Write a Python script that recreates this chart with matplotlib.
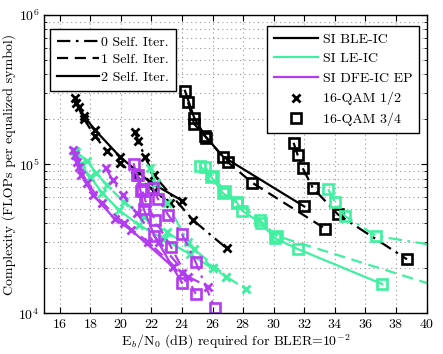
import matplotlib
matplotlib.use("Agg")
import matplotlib.pyplot as plt
from matplotlib.lines import Line2D
from matplotlib.ticker import FixedLocator, LogLocator, NullFormatter

plt.rcParams['font.family'] = ['cmr10', 'DejaVu Serif']
plt.rcParams['mathtext.fontset'] = 'cm'
plt.rcParams['axes.formatter.use_mathtext'] = True
plt.rcParams['axes.unicode_minus'] = False

# ---------------- data ----------------
# BLE-IC (black), 16-QAM 1/2
ble_12_it2_x = [17.0, 17.3, 17.6, 18.3, 19.95, 21.9, 24.0]
ble_12_it2_y = [2.76e5, 2.4e5, 2.1e5, 1.7e5, 1.12e5, 7.6e4, 5.7e4]
ble_12_it1_x = [17.1, 17.6, 18.3, 19.1, 19.95, 21.0, 22.2, 23.2]
ble_12_it1_y = [2.55e5, 2.0e5, 1.55e5, 1.22e5, 1.02e5, 8.3e4, 6.6e4, 5.5e4]
ble_12_it0_x = [20.93, 21.15, 21.58, 22.17, 24.74, 26.92]
ble_12_it0_y = [1.65e5, 1.42e5, 1.12e5, 8.4e4, 4.2e4, 2.73e4]
# BLE-IC (black), 16-QAM 3/4
ble_34_it2_x = [24.2, 24.8, 25.5, 26.7, 32.0]
ble_34_it2_y = [3.1e5, 2.05e5, 1.55e5, 1.12e5, 5.2e4]
ble_34_it1_x = [24.4, 24.8, 25.6, 27.0, 28.6, 33.35]
ble_34_it1_y = [2.6e5, 1.86e5, 1.5e5, 1.03e5, 7.5e4, 3.7e4]
ble_34_it0_x = [31.3, 31.57, 31.9, 32.55, 34.2, 38.72]
ble_34_it0_y = [1.39e5, 1.15e5, 9.4e4, 6.95e4, 4.6e4, 2.3e4]

# LE-IC (green), 16-QAM 1/2
le_12_it2_x = [17.0, 17.4, 18.0, 18.8, 19.9, 21.2, 22.8, 24.5, 26.0]
le_12_it2_y = [1.22e5, 1.0e5, 8.2e4, 6.4e4, 4.9e4, 3.9e4, 3.15e4, 2.5e4, 2.0e4]
le_12_it1_x = [17.1, 17.8, 18.4, 19.1, 20.2, 21.5, 23.0, 24.8, 26.9]
le_12_it1_y = [1.2e5, 1.05e5, 8.7e4, 7.2e4, 5.6e4, 4.4e4, 3.5e4, 2.7e4, 1.76e4]
le_12_it0_x = [21.9, 22.3, 23.0, 24.4, 26.0, 26.9, 28.2]
le_12_it0_y = [9.4e4, 7.5e4, 5.5e4, 3.0e4, 2.0e4, 1.76e4, 1.45e4]
# LE-IC (green), 16-QAM 3/4
le_34_it2_x = [25.17, 25.9, 26.67, 27.6, 27.96, 29.14, 30.1, 31.6, 37.1]
le_34_it2_y = [9.7e4, 8.25e4, 6.4e4, 5.5e4, 4.85e4, 4.05e4, 3.18e4, 2.69e4, 1.57e4]
le_34_it1_x = [25.5, 26.0, 26.8, 27.6, 29.1, 30.2, 41.5]
le_34_it1_y = [9.5e4, 8.3e4, 6.6e4, 5.6e4, 4.2e4, 3.3e4, 1.43e4]
le_34_it0_x = [33.56, 34.0, 34.65, 36.7, 41.0]
le_34_it0_y = [6.78e4, 5.6e4, 4.5e4, 3.3e4, 2.8e4]

# DFE-IC EP (purple), 16-QAM 1/2
dfe_12_it2_x = [16.9, 17.15, 17.4, 18.2, 19.6, 20.7, 23.4]
dfe_12_it2_y = [1.24e5, 1.04e5, 8.5e4, 6.2e4, 4.3e4, 3.6e4, 2.05e4]
dfe_12_it1_x = [17.0, 17.3, 17.8, 18.8, 20.2, 21.8, 24.0]
dfe_12_it1_y = [1.15e5, 9.5e4, 7.5e4, 5.5e4, 4.0e4, 3.0e4, 1.85e4]
dfe_12_it0_x = [19.03, 19.47, 20.12, 21.03, 22.5, 24.4, 25.7]
dfe_12_it0_y = [9.4e4, 7.8e4, 6.2e4, 4.7e4, 3.0e4, 1.76e4, 1.51e4]
# DFE-IC EP (purple), 16-QAM 3/4
dfe_34_it2_x = [20.85, 21.05, 21.3, 21.5, 22.2, 24.0]
dfe_34_it2_y = [1.0e5, 8.4e4, 6.6e4, 5.0e4, 3.3e4, 1.6e4]
dfe_34_it1_x = [21.1, 21.4, 21.6, 22.25, 23.3, 24.9]
dfe_34_it1_y = [8.5e4, 6.8e4, 5.7e4, 4.2e4, 2.77e4, 1.35e4]
dfe_34_it0_x = [22.1, 22.45, 23.1, 24.0, 24.9, 26.15]
dfe_34_it0_y = [6.9e4, 5.8e4, 4.56e4, 3.4e4, 2.2e4, 1.08e4]

iter_labels = ['0 Self. Iter.', '1 Self. Iter.', '2 Self. Iter.']
eq_labels = ['SI BLE-IC', 'SI LE-IC', 'SI DFE-IC EP']
rate_labels = ['16-QAM 1/2', '16-QAM 3/4']
x_ticks = [16, 18, 20, 22, 24, 26, 28, 30, 32, 34, 36, 38, 40]

# ---------------- style ----------------
BLACK = '#000000'
GREEN = '#40F0A0'
PURPLE = '#B43CF0'
styles = {0: (0, (6, 2.5, 1.2, 2.5)), 1: (0, (5, 3)), 2: '-'}

fig = plt.figure(figsize=(4.43, 3.54), dpi=100)
ax = fig.add_axes([0.100, 0.115, 0.863, 0.8427])

series = [
    (ble_12_it0_x, ble_12_it0_y, BLACK, 0, 'x'), (ble_12_it1_x, ble_12_it1_y, BLACK, 1, 'x'),
    (ble_12_it2_x, ble_12_it2_y, BLACK, 2, 'x'),
    (ble_34_it0_x, ble_34_it0_y, BLACK, 0, 's'), (ble_34_it1_x, ble_34_it1_y, BLACK, 1, 's'),
    (ble_34_it2_x, ble_34_it2_y, BLACK, 2, 's'),
    (le_12_it0_x, le_12_it0_y, GREEN, 0, 'x'), (le_12_it1_x, le_12_it1_y, GREEN, 1, 'x'),
    (le_12_it2_x, le_12_it2_y, GREEN, 2, 'x'),
    (le_34_it0_x, le_34_it0_y, GREEN, 0, 's'), (le_34_it1_x, le_34_it1_y, GREEN, 1, 's'),
    (le_34_it2_x, le_34_it2_y, GREEN, 2, 's'),
    (dfe_12_it0_x, dfe_12_it0_y, PURPLE, 0, 'x'), (dfe_12_it1_x, dfe_12_it1_y, PURPLE, 1, 'x'),
    (dfe_12_it2_x, dfe_12_it2_y, PURPLE, 2, 'x'),
    (dfe_34_it0_x, dfe_34_it0_y, PURPLE, 0, 's'), (dfe_34_it1_x, dfe_34_it1_y, PURPLE, 1, 's'),
    (dfe_34_it2_x, dfe_34_it2_y, PURPLE, 2, 's'),
]
for xs, ys, c, it, mk in series:
    if mk == 'x':
        ax.plot(xs, ys, color=c, ls=styles[it], lw=1.6, marker='x', ms=5.5, mew=2.0)
    else:
        ax.plot(xs, ys, color=c, ls=styles[it], lw=1.6, marker='s', ms=7.5, mew=1.9,
                mfc='none')

ax.set_yscale('log')
ax.set_xlim(15, 40)
ax.set_ylim(1e4, 1e6)
ax.xaxis.set_major_locator(FixedLocator(x_ticks))
ax.yaxis.set_major_locator(LogLocator(base=10, numticks=10))
ax.yaxis.set_minor_locator(LogLocator(base=10, subs=range(2, 10), numticks=20))
ax.yaxis.set_minor_formatter(NullFormatter())
ax.grid(True, which='major', ls=(0, (1, 3)), color='#999999', lw=0.8)
ax.grid(True, which='minor', axis='y', ls=(0, (1, 3)), color='#999999', lw=0.8)
ax.tick_params(which='both', direction='in', top=True, right=True, labelsize=10)
ax.tick_params(which='major', length=4)
ax.tick_params(which='minor', length=2)
for s in ax.spines.values():
    s.set_linewidth(1.0)

ax.set_xlabel(r'E$_b$/N$_0$ (dB) required for BLER=$10^{-2}$', fontsize=10, labelpad=1)
ax.set_ylabel('Complexity (FLOPs per equalized symbol)', fontsize=10, labelpad=2)

# legend 1: self iterations
h1 = [Line2D([], [], color='k', ls=styles[i], lw=1.6) for i in range(3)]
leg1 = ax.legend(h1, iter_labels, loc='upper left', bbox_to_anchor=(0.015, 0.953),
                 borderaxespad=0, fancybox=False, edgecolor='k', framealpha=1,
                 fontsize=10, handlelength=3.0, handletextpad=0.2, labelspacing=0.35,
                 borderpad=0.5)
leg1.get_frame().set_linewidth(1.0)
ax.add_artist(leg1)

# legend 2: equalizers and rates
h2 = [Line2D([], [], color=BLACK, lw=1.6), Line2D([], [], color=GREEN, lw=1.6),
      Line2D([], [], color=PURPLE, lw=1.6),
      Line2D([], [], color='k', ls='none', marker='x', ms=5.5, mew=2.0),
      Line2D([], [], color='k', ls='none', marker='s', ms=7.5, mew=1.9, mfc='none')]
leg2 = ax.legend(h2, eq_labels + rate_labels, loc='upper right',
                 bbox_to_anchor=(0.98, 0.963), borderaxespad=0, fancybox=False,
                 edgecolor='k', framealpha=1, fontsize=10, handlelength=3.2,
                 handletextpad=0.3, labelspacing=0.5, borderpad=0.5)
leg2.get_frame().set_linewidth(1.0)

fig.savefig('out.png', dpi=100)
